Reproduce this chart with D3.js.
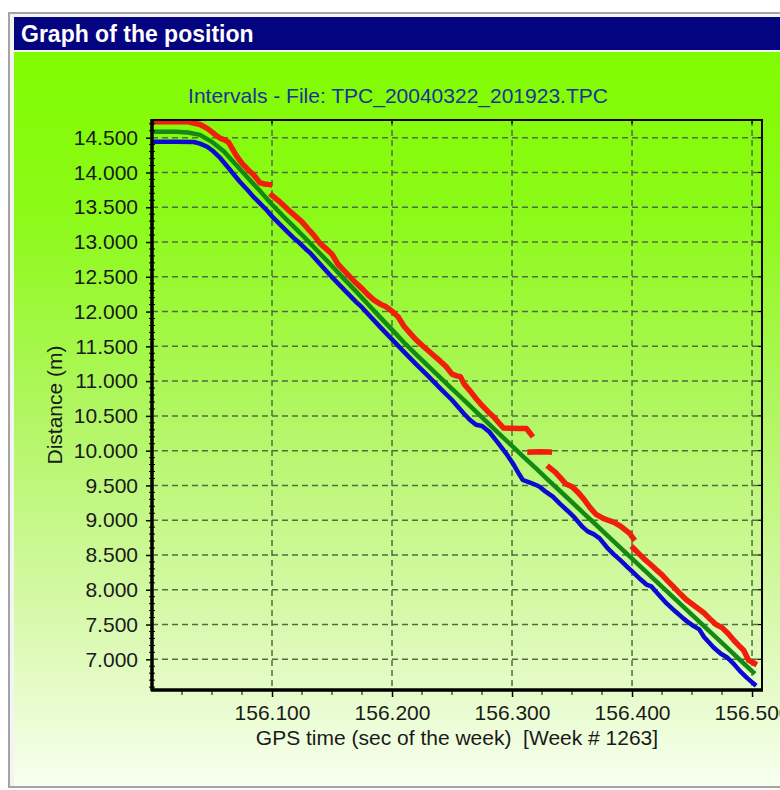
<!DOCTYPE html>
<html>
<head>
<meta charset="utf-8">
<script src="https://cdn.jsdelivr.net/npm/d3@7"></script>
<style>
  body { margin: 0; background: #ffffff; }
  text { font-family: "Liberation Sans", Arial, sans-serif; }
</style>
</head>
<body>
<svg id="chart" width="780" height="790"></svg>
<script>
// GPS time (s of week) and distance (m)
const redTime = [156003, 156015, 156030, 156040, 156046, 156053, 156057, 156061, 156064, 156070,
  156075, 156080, 156085, 156090, 156094, 156098, 156099, 156100, 156105, 156110, 156115, 156120,
  156125, 156130, 156135, 156140, 156145, 156150, 156155, 156160, 156165, 156170, 156175, 156180,
  156185, 156190, 156195, 156200, 156205, 156210, 156215, 156220, 156225, 156230, 156235, 156240,
  156245, 156250, 156254, 156257, 156260, 156265, 156270, 156275, 156280, 156285, 156290, 156293,
  156300, 156306, 156312, 156316, 156316, 156315, 156323, 156331, 156331, 156331, 156336, 156340,
  156345, 156350, 156355, 156360, 156365, 156370, 156376, 156380, 156385, 156390, 156393, 156398,
  156401, 156401, 156401, 156405, 156410, 156415, 156420, 156425, 156430, 156435, 156440, 156445,
  156450, 156455, 156460, 156465, 156470, 156475, 156480, 156485, 156490, 156493, 156497, 156502];
const redDist = [14730, 14730, 14728, 14690, 14635, 14540, 14490, 14465, 14430, 14250,
  14130, 14040, 13960, 13850, 13835, 13825, null, 13670, 13600, 13520, 13440, 13365,
  13290, 13190, 13095, 12980, 12905, 12825, 12680, 12590, 12500, 12410, 12330, 12240,
  12165, 12110, 12070, 12005, 11925, 11790, 11690, 11595, 11515, 11440, 11365, 11290,
  11210, 11100, 11075, 11065, 10960, 10860, 10750, 10650, 10560, 10480, 10380, 10325,
  10322, 10320, 10318, 10230, null, 9980, 9985, 9980, null, 9760, 9690, 9615,
  9520, 9480, 9400, 9300, 9180, 9085, 9027, 9000, 8970, 8920, 8880, 8810,
  8740, null, 8600, 8530, 8445, 8370, 8290, 8215, 8120, 8035, 7945, 7860,
  7795, 7730, 7665, 7580, 7500, 7455, 7370, 7270, 7180, 7130, 6990, 6941];

const greenTime = [156003, 156010, 156020, 156030, 156040, 156050, 156060, 156070, 156080, 156090,
  156100, 156110, 156120, 156130, 156140, 156150, 156160, 156170, 156180, 156190, 156200, 156210,
  156220, 156230, 156240, 156250, 156260, 156270, 156280, 156290, 156300, 156310, 156320, 156330,
  156340, 156350, 156360, 156370, 156380, 156390, 156400, 156410, 156420, 156430, 156440, 156450,
  156460, 156470, 156480, 156490, 156500, 156501];
const greenDist = [14586, 14586, 14586, 14575, 14540, 14440, 14300, 14110, 13920, 13735,
  13540, 13360, 13190, 13015, 12835, 12655, 12470, 12290, 12105, 11920, 11740, 11555,
  11385, 11220, 11055, 10890, 10725, 10560, 10395, 10230, 10068, 9905, 9745, 9580,
  9420, 9258, 9095, 8935, 8772, 8610, 8448, 8286, 8124, 7962, 7800, 7638,
  7476, 7314, 7152, 6990, 6830, 6815];

const blueTime = [156003, 156020, 156035, 156040, 156046, 156050, 156057, 156065, 156073, 156080,
  156084, 156090, 156096, 156101, 156106, 156112, 156118, 156123, 156128, 156132, 156140, 156150,
  156160, 156170, 156175, 156180, 156190, 156200, 156210, 156220, 156230, 156240, 156250, 156260,
  156265, 156270, 156275, 156281, 156288, 156295, 156301, 156306, 156309, 156315, 156320, 156323,
  156328, 156334, 156340, 156346, 156352, 156359, 156363, 156368, 156373, 156380, 156385, 156390,
  156396, 156401, 156407, 156412, 156416, 156420, 156429, 156436, 156443, 156447, 156451, 156456,
  156460, 156468, 156474, 156479, 156485, 156490, 156496, 156502];
const blueDist = [14442, 14442, 14438, 14415, 14370, 14320, 14205, 14040, 13870, 13740,
  13660, 13555, 13450, 13350, 13265, 13160, 13060, 12985, 12900, 12840, 12685, 12495,
  12315, 12140, 12060, 11965, 11780, 11600, 11420, 11245, 11075, 10900, 10728, 10530,
  10441, 10372, 10355, 10272, 10120, 9962, 9810, 9660, 9578, 9540, 9506, 9482,
  9410, 9338, 9235, 9140, 9040, 8900, 8840, 8800, 8740, 8590, 8505, 8430,
  8330, 8250, 8150, 8075, 8050, 7970, 7800, 7690, 7585, 7530, 7480, 7430,
  7320, 7170, 7080, 7030, 6930, 6830, 6730, 6640];

const xTicks = [156100, 156200, 156300, 156400, 156500];
const yTicks = [7000, 7500, 8000, 8500, 9000, 9500, 10000, 10500, 11000, 11500, 12000,
  12500, 13000, 13500, 14000, 14500];

const series = [
  { name: "red", time: redTime, dist: redDist, color: "#f01e0a", width: 5.5 },
  { name: "blue", time: blueTime, dist: blueDist, color: "#0a0ad2", width: 4.5 },
  { name: "green", time: greenTime, dist: greenDist, color: "#138a13", width: 4.5 },
];

const svg = d3.select("#chart");

// plot box
const plotLeft = 152, plotRight = 762, plotTop = 120, plotBottom = 690;
const x = d3.scaleLinear().domain([156000, 156508.3]).range([plotLeft, plotRight]);
const y = d3.scaleLinear().domain([6558.6, 14754.5]).range([plotBottom, plotTop]);

// numbers like 14.500 (dot as thousands separator)
const fmt = d3.formatLocale({ decimal: ",", thousands: ".", grouping: [3], currency: ["", ""] }).format(",");

// background gradient
const defs = svg.append("defs");
const grad = defs.append("linearGradient")
  .attr("id", "bg")
  .attr("x1", 0).attr("y1", 0).attr("x2", 0).attr("y2", 1);
grad.append("stop").attr("offset", "0%").attr("stop-color", "#80fc00");
grad.append("stop").attr("offset", "22%").attr("stop-color", "#8cfa18");
grad.append("stop").attr("offset", "50%").attr("stop-color", "#b2f664");
grad.append("stop").attr("offset", "78%").attr("stop-color", "#d9f9ae");
grad.append("stop").attr("offset", "100%").attr("stop-color", "#f8fff0");

// window frame
svg.append("rect")
  .attr("x", 9).attr("y", 13).attr("width", 790).attr("height", 774)
  .attr("fill", "#f4f4f4").attr("stroke", "#a4a4a4").attr("stroke-width", 2);
svg.append("rect")
  .attr("x", 14).attr("y", 17).attr("width", 780).attr("height", 33)
  .attr("fill", "#040480");
svg.append("text")
  .attr("x", 21).attr("y", 42)
  .attr("fill", "#ffffff")
  .attr("font-size", 23).attr("font-weight", "bold")
  .text("Graph of the position");
svg.append("rect")
  .attr("x", 14).attr("y", 52).attr("width", 780).attr("height", 734)
  .attr("fill", "url(#bg)");

// chart title
svg.append("text")
  .attr("x", 398).attr("y", 103)
  .attr("text-anchor", "middle")
  .attr("font-size", 21)
  .attr("fill", "#1a3399")
  .text("Intervals - File: TPC_20040322_201923.TPC");

// grid
const gridG = svg.append("g")
  .attr("stroke", "#4f6e40").attr("stroke-width", 1.5).attr("stroke-dasharray", "6,4");
gridG.selectAll("line.gy").data(yTicks).join("line")
  .attr("class", "gy")
  .attr("x1", plotLeft).attr("x2", plotRight)
  .attr("y1", (d) => y(d)).attr("y2", (d) => y(d));
gridG.selectAll("line.gx").data(xTicks).join("line")
  .attr("class", "gx")
  .attr("x1", (d) => x(d)).attr("x2", (d) => x(d))
  .attr("y1", plotTop).attr("y2", plotBottom);

// data lines
const line = d3.line()
  .defined((d) => d.v !== null)
  .x((d) => x(d.t))
  .y((d) => y(d.v));

const plotG = svg.append("g");
series.forEach((s) => {
  const pts = s.time.map((t, i) => ({ t: t, v: s.dist[i] }));
  plotG.append("path")
    .datum(pts)
    .attr("fill", "none")
    .attr("stroke", s.color)
    .attr("stroke-width", s.width)
    .attr("stroke-linejoin", "round")
    .attr("stroke-linecap", "square")
    .attr("d", line);
});

// frame around plot
svg.append("rect")
  .attr("x", plotLeft).attr("y", plotTop)
  .attr("width", plotRight - plotLeft).attr("height", plotBottom - plotTop)
  .attr("fill", "none").attr("stroke", "#000").attr("stroke-width", 2);
svg.append("line")
  .attr("x1", plotLeft).attr("x2", plotLeft).attr("y1", plotTop - 1).attr("y2", plotBottom + 1)
  .attr("stroke", "#000").attr("stroke-width", 3.5);
svg.append("line")
  .attr("x1", plotLeft - 1).attr("x2", plotRight + 1).attr("y1", plotBottom).attr("y2", plotBottom)
  .attr("stroke", "#000").attr("stroke-width", 3.5);

// y axis
const yAxis = d3.axisLeft(y).tickValues(yTicks).tickFormat(fmt).tickSize(6).tickPadding(8);
const yG = svg.append("g").attr("transform", `translate(${plotLeft},0)`).call(yAxis);
yG.select(".domain").remove();
yG.selectAll("text").attr("font-size", 21).attr("fill", "#1a1a1a")
  .attr("font-family", "Liberation Sans, Arial, sans-serif");
yG.selectAll("line").attr("stroke-width", 1.5);

// y minor ticks every 100 m
const yMinor = d3.range(6600, 14800, 100).filter((d) => d % 500 !== 0);
svg.append("g").selectAll("line").data(yMinor).join("line")
  .attr("x1", plotLeft - 3).attr("x2", plotLeft + 3)
  .attr("y1", (d) => y(d)).attr("y2", (d) => y(d))
  .attr("stroke", "#000").attr("stroke-width", 1);

// small ticks on the right and top borders
svg.append("g").selectAll("line").data(yTicks).join("line")
  .attr("x1", plotRight - 4).attr("x2", plotRight)
  .attr("y1", (d) => y(d)).attr("y2", (d) => y(d))
  .attr("stroke", "#000").attr("stroke-width", 1.2);
svg.append("g").selectAll("line").data(xTicks).join("line")
  .attr("x1", (d) => x(d)).attr("x2", (d) => x(d))
  .attr("y1", plotTop).attr("y2", plotTop + 4)
  .attr("stroke", "#000").attr("stroke-width", 1.2);

// x axis
const xAxis = d3.axisBottom(x).tickValues(xTicks).tickFormat(fmt).tickSize(7).tickPadding(8);
const xG = svg.append("g").attr("transform", `translate(0,${plotBottom})`).call(xAxis);
xG.select(".domain").remove();
xG.selectAll("text").attr("font-size", 21).attr("fill", "#1a1a1a")
  .attr("font-family", "Liberation Sans, Arial, sans-serif");
xG.selectAll("line").attr("stroke-width", 1.5);

// x minor ticks every 25 s
const xMinor = d3.range(156025, 156500, 25).filter((d) => d % 100 !== 0);
svg.append("g").selectAll("line").data(xMinor).join("line")
  .attr("x1", (d) => x(d)).attr("x2", (d) => x(d))
  .attr("y1", plotBottom).attr("y2", plotBottom + 5)
  .attr("stroke", "#000").attr("stroke-width", 1);

// axis titles
svg.append("text")
  .attr("transform", `translate(62,${(plotTop + plotBottom) / 2}) rotate(-90)`)
  .attr("text-anchor", "middle")
  .attr("font-size", 21)
  .attr("fill", "#1a1a1a")
  .text("Distance (m)");
svg.append("text")
  .attr("x", (plotLeft + plotRight) / 2).attr("y", 745)
  .attr("text-anchor", "middle")
  .attr("font-size", 21)
  .attr("fill", "#1a1a1a")
  .attr("xml:space", "preserve")
  .style("white-space", "pre")
  .text("GPS time (sec of the week)  [Week # 1263]");
</script>
</body>
</html>
